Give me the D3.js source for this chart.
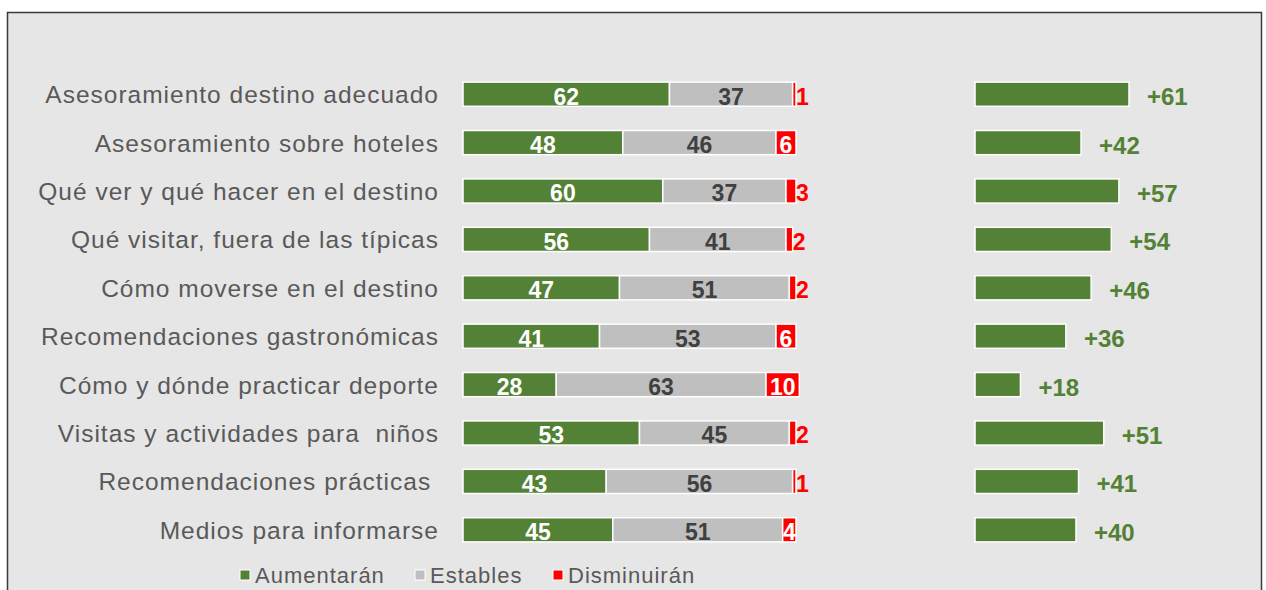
<!DOCTYPE html>
<html>
  <head>
    <meta charset="utf-8">
    <title>Información demandada</title>
    <script src="https://d3js.org/d3.v7.min.js"></script>
    <style>
      body { margin: 0; background: #ffffff; }
      svg { display: block; font-family: "Liberation Sans", Arial, sans-serif; }
      .cat { font-size: 24.5px; letter-spacing: 1px; fill: #595959; text-anchor: end; white-space: pre; }
      .val { font-size: 23px; font-weight: bold; }
      .net { font-size: 24px; font-weight: bold; fill: #538135; }
      .legend text { font-size: 22px; letter-spacing: 1px; fill: #595959; }
    </style>
  </head>
  <body>
    <svg width="1266" height="590"></svg>
    <script>
      const categories = [
        "Asesoramiento destino adecuado",
        "Asesoramiento sobre hoteles",
        "Qué ver y qué hacer en el destino",
        "Qué visitar, fuera de las típicas",
        "Cómo moverse en el destino",
        "Recomendaciones gastronómicas",
        "Cómo y dónde practicar deporte",
        "Visitas y actividades para  niños",
        "Recomendaciones prácticas ",
        "Medios para informarse"
      ];
      const aumentaran  = [62, 48, 60, 56, 47, 41, 28, 53, 43, 45];
      const estables    = [37, 46, 37, 41, 51, 53, 63, 45, 56, 51];
      const disminuiran = [1, 6, 3, 2, 2, 6, 10, 2, 1, 4];
      const saldo       = [61, 42, 57, 54, 46, 36, 18, 51, 41, 40];

      const seriesNames = ["Aumentarán", "Estables", "Disminuirán"];
      const colors = ["#538135", "#bfbfbf", "#ff0000"];
      const labelColors = ["#ffffff", "#404040", "#ffffff"];

      const svg = d3.select("svg");

      // panel
      svg.append("rect")
        .attr("x", 7.5).attr("y", 12.5)
        .attr("width", 1254).attr("height", 600)
        .attr("fill", "#e6e6e6")
        .attr("stroke", "#3a3a3a")
        .attr("stroke-width", 1.5);

      const y = d3.scaleBand()
        .domain(categories)
        .range([70, 554])
        .paddingInner(0.5)
        .paddingOuter(0.25);

      const x = d3.scaleLinear().domain([0, 100]).range([463, 796]);
      const x2 = d3.scaleLinear().domain([0, 61]).range([975, 1129]);

      const rows = categories.map((c, i) => ({
        cat: c,
        values: [aumentaran[i], estables[i], disminuiran[i]],
        net: saldo[i]
      }));

      // category labels
      svg.append("g").selectAll("text")
        .data(rows)
        .join("text")
          .attr("class", "cat")
          .attr("x", 439)
          .attr("y", d => y(d.cat) + y.bandwidth() / 2 + 9)
          .text(d => d.cat);

      // stacked bars
      const rowG = svg.append("g").selectAll("g")
        .data(rows)
        .join("g")
          .attr("transform", d => `translate(0, ${y(d.cat)})`);

      const segs = rowG.selectAll("g.seg")
        .data(d => {
          let acc = 0;
          return d.values.map((v, k) => {
            const s = { v, k, x0: acc, x1: acc + v };
            acc += v;
            return s;
          });
        })
        .join("g").attr("class", "seg");

      segs.append("rect")
        .attr("x", s => x(s.x0))
        .attr("y", 0)
        .attr("width", s => x(s.x1) - x(s.x0))
        .attr("height", y.bandwidth())
        .attr("fill", s => colors[s.k])
        .attr("stroke", "#ffffff")
        .attr("stroke-width", 1.5);

      // small "disminuirán" values sit just right of their sliver
      const outside = s => s.k === 2 && s.v <= 3;

      segs.append("text")
        .attr("class", "val")
        .attr("x", s => outside(s) ? x(s.x1) : (x(s.x0) + x(s.x1)) / 2)
        .attr("text-anchor", s => outside(s) ? "start" : "middle")
        .attr("y", y.bandwidth() / 2 + 10.5)
        .attr("fill", s => outside(s) ? "#ff0000" : labelColors[s.k])
        .text(s => s.v);

      // net balance bars
      const netG = svg.append("g").selectAll("g")
        .data(rows)
        .join("g")
          .attr("transform", d => `translate(0, ${y(d.cat)})`);

      netG.append("rect")
        .attr("x", x2(0))
        .attr("y", 0)
        .attr("width", d => x2(d.net) - x2(0))
        .attr("height", y.bandwidth())
        .attr("fill", colors[0])
        .attr("stroke", "#ffffff")
        .attr("stroke-width", 1.5);

      netG.append("text")
        .attr("class", "net")
        .attr("x", d => x2(d.net) + 18)
        .attr("y", y.bandwidth() / 2 + 11)
        .text(d => "+" + d.net);

      // legend
      const legendX = [240, 415, 553];
      const legend = svg.append("g").attr("class", "legend")
        .selectAll("g")
        .data(seriesNames)
        .join("g")
          .attr("transform", (d, i) => `translate(${legendX[i]}, 570)`);

      legend.append("rect")
        .attr("width", 10).attr("height", 10)
        .attr("fill", (d, i) => colors[i])
        .attr("stroke", "#ffffff")
        .attr("stroke-width", 1);

      legend.append("text")
        .attr("x", 15)
        .attr("y", 13)
        .text(d => d);
    </script>
  </body>
</html>
